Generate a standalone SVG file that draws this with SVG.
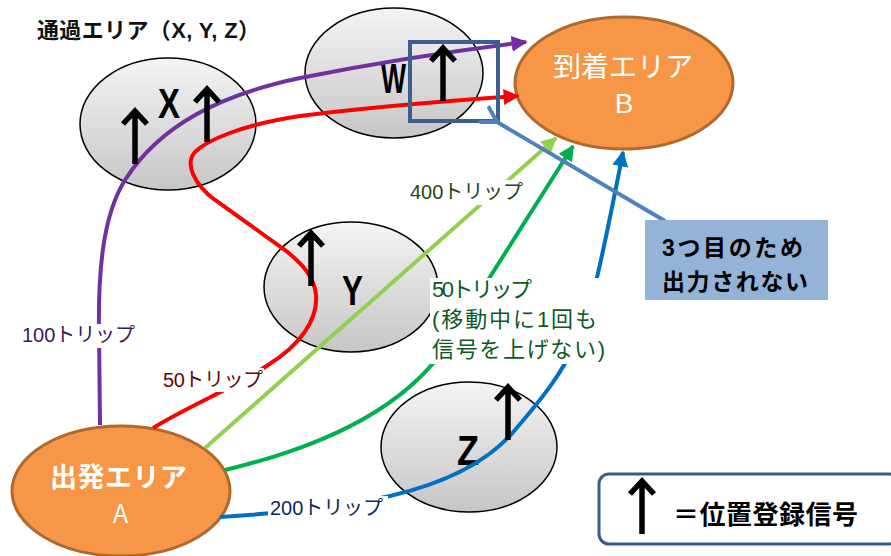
<svg xmlns="http://www.w3.org/2000/svg" width="891" height="556" viewBox="0 0 891 556">
<defs>
<linearGradient id="gray" x1="0" y1="0" x2="0" y2="1">
<stop offset="0" stop-color="#F4F4F4"/>
<stop offset="1" stop-color="#C6C6C6"/>
</linearGradient>
<marker id="mPurple" viewBox="0 0 10 10" refX="9" refY="5" markerWidth="4" markerHeight="4" orient="auto" markerUnits="strokeWidth"><path d="M0,0 L10,5 L0,10 Z" fill="#7030A0"/></marker>
<marker id="mRed" viewBox="0 0 10 10" refX="9" refY="5" markerWidth="4" markerHeight="4" orient="auto" markerUnits="strokeWidth"><path d="M0,0 L10,5 L0,10 Z" fill="#FF0000"/></marker>
<marker id="mLg" viewBox="0 0 10 10" refX="9" refY="5" markerWidth="4" markerHeight="4" orient="auto" markerUnits="strokeWidth"><path d="M0,0 L10,5 L0,10 Z" fill="#92D050"/></marker>
<marker id="mG" viewBox="0 0 10 10" refX="9" refY="5" markerWidth="4" markerHeight="4" orient="auto" markerUnits="strokeWidth"><path d="M0,0 L10,5 L0,10 Z" fill="#00B050"/></marker>
<marker id="mB" viewBox="0 0 10 10" refX="9" refY="5" markerWidth="4" markerHeight="4" orient="auto" markerUnits="strokeWidth"><path d="M0,0 L10,5 L0,10 Z" fill="#0070C0"/></marker>
<marker id="mCall" viewBox="0 0 12 12" refX="1.5" refY="6" markerWidth="5" markerHeight="5" orient="auto" markerUnits="strokeWidth" overflow="visible"><path d="M10,1 L1.5,6 L10,11" fill="none" stroke="#4F81BD" stroke-width="2.4" stroke-linecap="round"/></marker>
<path id="sig" d="M0,56 V2 M-12,16 L0,3 L12,16" fill="none" stroke="#000" stroke-width="5.5"/>
</defs>
<style>
.gray{fill:url(#gray);stroke:#000;stroke-width:1.5}
.orange{fill:#F79646;stroke:#B0692D;stroke-width:3}
.conn{fill:none;stroke-width:4}
.letter{font-family:"Liberation Sans",sans-serif;font-weight:bold;font-size:43px;fill:#000}
.jp{font-family:"Liberation Sans","Noto Sans CJK JP",sans-serif}
.lbl{font-family:"Liberation Sans","Noto Sans CJK JP",sans-serif;font-size:20px}
.lbl2{font-family:"Liberation Sans","Noto Sans CJK JP",sans-serif;font-size:22px}
.bg{fill:#fff}
</style>
<rect width="891" height="556" fill="#fff"/>

<g id="title"><text x="37" y="38" class="jp" font-size="22" font-weight="bold" fill="#111" textLength="223" lengthAdjust="spacing">通過エリア（X, Y, Z）</text></g>

<g id="area-x"><ellipse cx="168" cy="124" rx="88" ry="66" class="gray"/><text x="158" y="118" class="letter" textLength="22" lengthAdjust="spacingAndGlyphs">X</text></g>
<g id="area-w"><ellipse cx="394" cy="73" rx="89" ry="65" class="gray"/><text x="381" y="93" class="letter" textLength="25" lengthAdjust="spacingAndGlyphs">W</text></g>
<g id="area-y"><ellipse cx="351" cy="287" rx="87" ry="65" class="gray"/><text x="342" y="305" class="letter" textLength="21" lengthAdjust="spacingAndGlyphs">Y</text></g>
<g id="area-z"><ellipse cx="469" cy="447" rx="88" ry="65" class="gray"/><text x="457" y="465" class="letter" textLength="22" lengthAdjust="spacingAndGlyphs">Z</text></g>
<g id="area-b"><ellipse cx="624" cy="83" rx="109" ry="66" class="orange"/>
<text x="553" y="77" class="jp" font-size="28" fill="#fff" textLength="140" lengthAdjust="spacing">到着エリア</text>
<text x="624" y="113" class="jp" font-size="28" fill="#fff" text-anchor="middle">B</text></g>
<g id="area-a"><ellipse cx="121" cy="491" rx="109" ry="65" class="orange"/>
<text x="50" y="487" class="jp" font-size="27" font-weight="bold" fill="#fff" textLength="137" lengthAdjust="spacing">出発エリア</text>
<text x="113" y="523" class="jp" font-size="28" fill="#fff" textLength="15" lengthAdjust="spacingAndGlyphs">A</text></g>

<g id="connectors">
<path class="conn" stroke="#7030A0" marker-end="url(#mPurple)" d="M100 425 L99 330 C98 262 105 212 125 180 C160 125 220 95 300 78 C380 62 460 50 526 42"/>
<path class="conn" stroke="#FF0000" marker-end="url(#mRed)" d="M153 428 C190 405 240 385 268 365 C300 345 318 320 316 295 C314 275 300 262 285 250 L215 200 C195 185 184 164 195 152 C206 141 240 125 300 116 C380 106 460 100 518 96"/>
<path class="conn" stroke="#92D050" marker-end="url(#mLg)" d="M205 448 L556 138"/>
<path class="conn" stroke="#00B050" marker-end="url(#mG)" d="M225 470 C330 445 410 405 450 340 L573 146"/>
<path class="conn" stroke="#0070C0" marker-end="url(#mB)" d="M220 517 C300 512 350 505 390 496 C450 482 490 460 515 430 C545 395 560 375 575 345 C590 315 600 270 623 152"/>
</g>

<g id="labels">
<rect x="21" y="324" width="116" height="24" class="bg"/>
<text x="22" y="342" class="lbl" fill="#3B1A5A" textLength="113" lengthAdjust="spacing">100トリップ</text>
<rect x="162" y="368" width="102" height="24" class="bg"/>
<text x="163" y="387" class="lbl" fill="#5C0A0A" textLength="100" lengthAdjust="spacing">50トリップ</text>
<rect x="408" y="180" width="116" height="25" class="bg"/>
<text x="410" y="199" class="lbl" fill="#2A4516" textLength="113" lengthAdjust="spacing">400トリップ</text>
<rect x="430" y="278" width="180" height="86" class="bg"/>
<text class="lbl2" fill="#0B5A26"><tspan x="432" y="297" textLength="100" lengthAdjust="spacing">50トリップ</tspan><tspan x="432" y="327" textLength="165" lengthAdjust="spacing">(移動中に1回も</tspan><tspan x="432" y="357" textLength="173" lengthAdjust="spacing">信号を上げない)</tspan></text>
<rect x="268" y="496" width="120" height="24" class="bg"/>
<text x="270" y="515" class="lbl" fill="#0B2B55" textLength="113" lengthAdjust="spacing">200トリップ</text>
</g>

<g id="signals">
<use href="#sig" x="135" y="108"/>
<use href="#sig" x="207" y="86"/>
<use href="#sig" x="443" y="45"/>
<use href="#sig" x="311" y="230"/>
<use href="#sig" x="508" y="384"/>
</g>

<g id="highlight"><rect x="410" y="42" width="88" height="79" fill="none" stroke="#3A5F8E" stroke-width="4"/></g>

<g id="callout"><path fill="none" stroke="#4F81BD" stroke-width="4" marker-end="url(#mCall)" d="M665 221 L497 122"/>
<rect x="645" y="220" width="183" height="80" fill="#95B3D7"/>
<text class="jp" font-size="23" font-weight="bold" fill="#000"><tspan x="662" y="256" textLength="141" lengthAdjust="spacing">3つ目のため</tspan><tspan x="662" y="290" textLength="146" lengthAdjust="spacing">出力されない</tspan></text></g>

<g id="legend"><rect x="599" y="474" width="300" height="70" rx="10" fill="#fff" stroke="#385D8A" stroke-width="3"/>
<use href="#sig" x="642" y="478"/>
<text x="673" y="524" class="jp" font-size="26" font-weight="bold" fill="#000" textLength="185" lengthAdjust="spacing">＝位置登録信号</text></g>
</svg>
